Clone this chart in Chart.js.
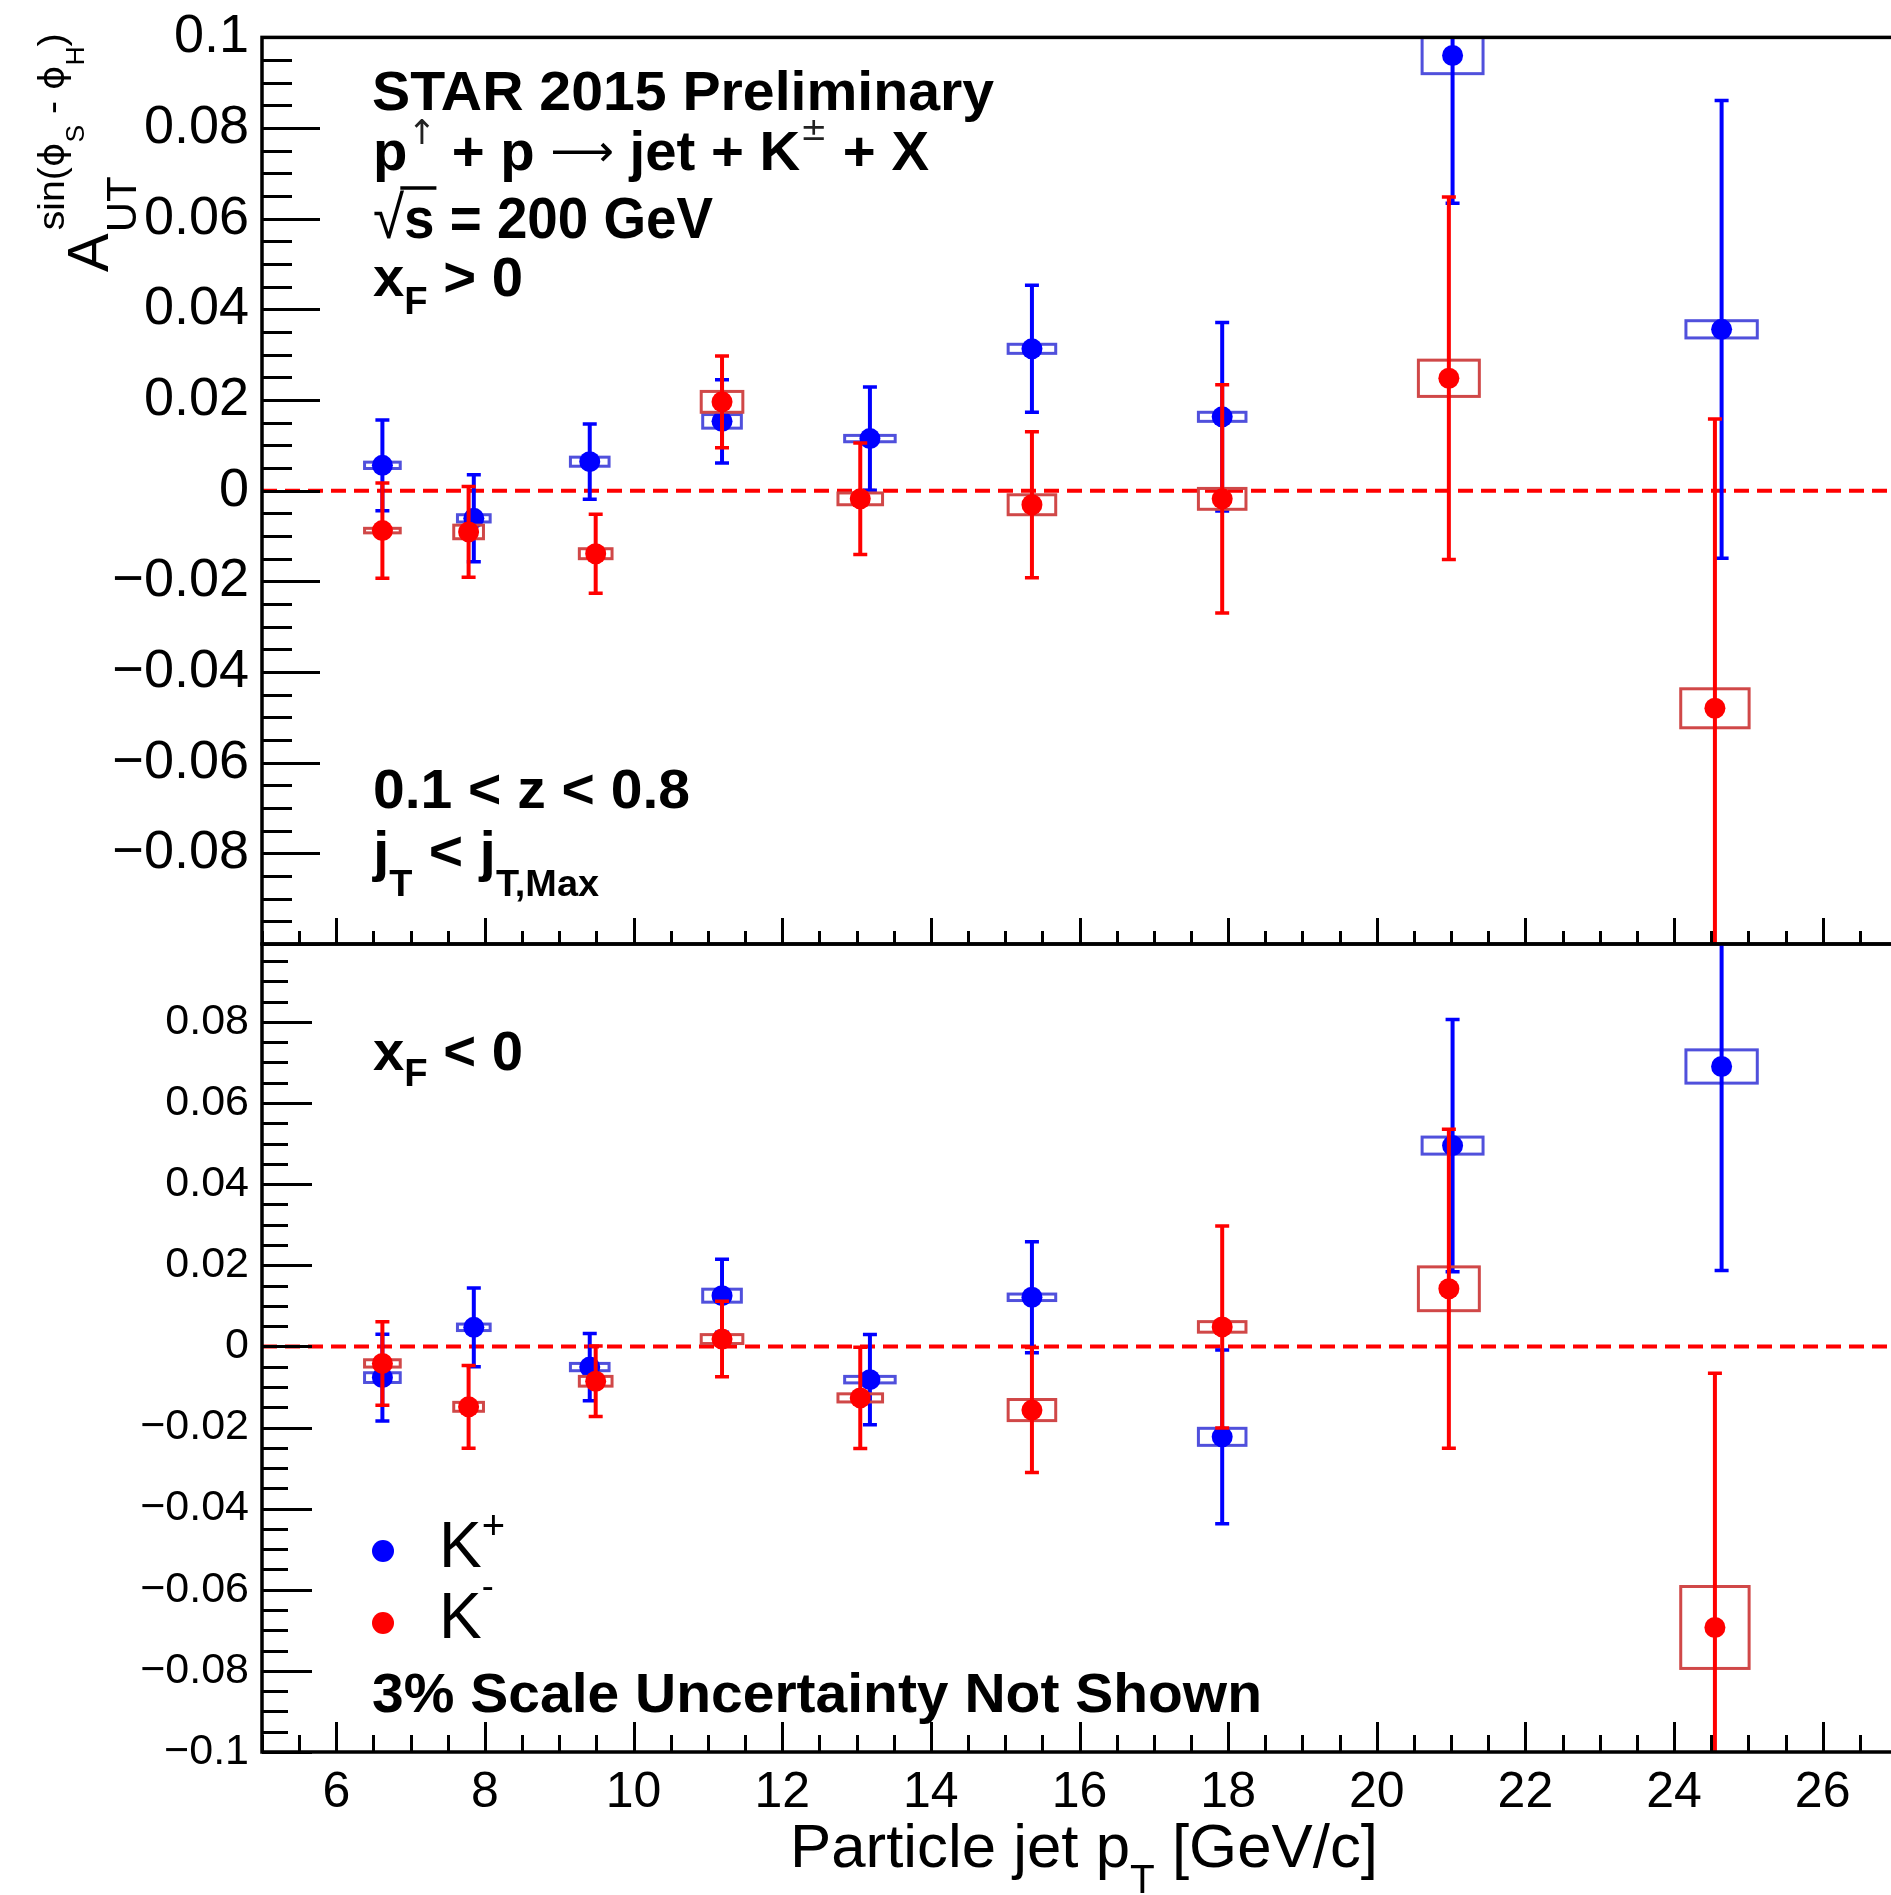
<!DOCTYPE html>
<html><head><meta charset="utf-8">
<script src="https://cdn.jsdelivr.net/npm/chart.js@4.4.1/dist/chart.umd.min.js"></script>
<style>
html,body{margin:0;padding:0;background:#fff;overflow:hidden;width:1891px;height:1895px;}
canvas{position:absolute;left:0;top:0;}
</style></head><body>
<canvas id="cTop" width="1910" height="1895"></canvas>
<canvas id="cBot" width="1910" height="1895"></canvas>
<script>
// ---------------- DATA ----------------
// x_F > 0 (top panel)
const ptTopKplus   = [6.62, 7.85, 9.41, 11.19, 13.18, 15.36, 17.92, 21.02, 24.64];
const autTopKplus  = [0.0056, -0.0061, 0.0064, 0.0153, 0.0115, 0.0313, 0.0163, 0.0960, 0.0356];
const statTopKplus = [0.0100, 0.0096, 0.0083, 0.0092, 0.0114, 0.0140, 0.0208, 0.0326, 0.0505];
const sysTopKplus  = [0.0007, 0.0008, 0.0010, 0.0015, 0.0007, 0.0010, 0.0010, 0.0040, 0.0019];

const ptTopKminus   = [6.62, 7.78, 9.49, 11.19, 13.05, 15.36, 17.92, 20.97, 24.55];
const autTopKminus  = [-0.0088, -0.0091, -0.0139, 0.0196, -0.0018, -0.0031, -0.0018, 0.0248, -0.0480];
const statTopKminus = [0.0105, 0.0100, 0.0087, 0.0101, 0.0123, 0.0161, 0.0252, 0.0400, 0.0638];
const sysTopKminus  = [0.0005, 0.0015, 0.0011, 0.0023, 0.0013, 0.0022, 0.0023, 0.0040, 0.0043];

// x_F < 0 (bottom panel)
const ptBotKplus   = [6.62, 7.85, 9.41, 11.19, 13.18, 15.36, 17.92, 21.02, 24.64];
const autBotKplus  = [-0.0077, 0.0047, -0.0051, 0.0125, -0.0082, 0.0121, -0.0223, 0.0495, 0.0690];
const statBotKplus = [0.0107, 0.0097, 0.0083, 0.0090, 0.0111, 0.0137, 0.0214, 0.0311, 0.0503];
const sysBotKplus  = [0.0012, 0.0008, 0.0009, 0.0016, 0.0008, 0.0008, 0.0021, 0.0021, 0.0041];

const ptBotKminus   = [6.62, 7.78, 9.49, 11.19, 13.05, 15.36, 17.92, 20.97, 24.55];
const autBotKminus  = [-0.0042, -0.0149, -0.0086, 0.0018, -0.0127, -0.0157, 0.0048, 0.0142, -0.0693];
const statBotKminus = [0.0103, 0.0102, 0.0087, 0.0093, 0.0125, 0.0154, 0.0249, 0.0393, 0.0627];
const sysBotKminus  = [0.0009, 0.0011, 0.0012, 0.0011, 0.0010, 0.0026, 0.0013, 0.0054, 0.0101];

// half widths of the systematic boxes (in pT units)
const binHalfKplus  = [0.24, 0.22, 0.26, 0.26, 0.34, 0.32, 0.32, 0.41, 0.48];
const binHalfKminus = [0.24, 0.20, 0.22, 0.28, 0.30, 0.32, 0.32, 0.41, 0.46];

// ticks
const xTickValues = [6, 8, 10, 12, 14, 16, 18, 20, 22, 24, 26];
const xTickLabels = ['6','8','10','12','14','16','18','20','22','24','26'];
const yTickValuesTop = [0.1, 0.08, 0.06, 0.04, 0.02, 0, -0.02, -0.04, -0.06, -0.08];
const yTickLabelsTop = ['0.1','0.08','0.06','0.04','0.02','0','\u22120.02','\u22120.04','\u22120.06','\u22120.08'];
const yTickValuesBot = [0.08, 0.06, 0.04, 0.02, 0, -0.02, -0.04, -0.06, -0.08, -0.1];
const yTickLabelsBot = ['0.08','0.06','0.04','0.02','0','\u22120.02','\u22120.04','\u22120.06','\u22120.08','\u22120.1'];

// ---------------- HELPERS ----------------
const FF = "'Liberation Sans', Arimo, Arial, sans-serif";
const F = (sz, b) => (b ? 'bold ' : '') + sz + 'px ' + FF;
const FD = (sz) => sz + "px 'DejaVu Sans', 'Liberation Sans', sans-serif";

function rich(ctx, x, y, segs, targetW) {
  let W = 0; const pos = [], ws = [];
  for (const s of segs) { ctx.font = s.f; const w = ctx.measureText(s.t).width; pos.push(W); ws.push(w); W += w; }
  const sx = targetW ? targetW / W : 1;
  ctx.save(); ctx.translate(x, y); ctx.scale(sx, 1);
  ctx.textBaseline = 'alphabetic'; ctx.textAlign = 'left';
  segs.forEach((s, i) => {
    ctx.font = s.f; ctx.fillStyle = s.c || '#000';
    ctx.fillText(s.t, pos[i], s.dy || 0);
    if (s.over) {
      ctx.strokeStyle = '#000'; ctx.lineWidth = 3.5;
      ctx.beginPath(); ctx.moveTo(pos[i] - 4, s.over); ctx.lineTo(pos[i] + ws[i] + 2, s.over); ctx.stroke();
    }
  });
  ctx.restore();
}

function mkData(xs, ys) { return xs.map((v, i) => ({x: v, y: ys[i]})); }

const errPlugin = {
  id: 'errs',
  beforeDatasetDraw(chart, args) {
    const ds = chart.data.datasets[args.index];
    if (!ds.statErr) return;
    const {ctx, chartArea: a, scales: {x, y}} = chart;
    ctx.save();
    ctx.beginPath(); ctx.rect(a.left, a.top, a.right - a.left, a.bottom - a.top); ctx.clip();
    ds.data.forEach((p, i) => {
      const px = x.getPixelForValue(p.x);
      const bx0 = x.getPixelForValue(p.x - ds.binHalf[i]), bx1 = x.getPixelForValue(p.x + ds.binHalf[i]);
      const by0 = y.getPixelForValue(p.y + ds.sysErr[i]), by1 = y.getPixelForValue(p.y - ds.sysErr[i]);
      ctx.strokeStyle = ds.boxColor; ctx.lineWidth = 3;
      ctx.strokeRect(bx0, by0, bx1 - bx0, by1 - by0);
      const ey0 = y.getPixelForValue(p.y + ds.statErr[i]), ey1 = y.getPixelForValue(p.y - ds.statErr[i]);
      ctx.strokeStyle = ds.errColor; ctx.lineWidth = 4;
      ctx.beginPath(); ctx.moveTo(px, ey0); ctx.lineTo(px, ey1); ctx.stroke();
      ctx.lineWidth = 3.5;
      ctx.beginPath(); ctx.moveTo(px - 7, ey0); ctx.lineTo(px + 7, ey0);
      ctx.moveTo(px - 7, ey1); ctx.lineTo(px + 7, ey1); ctx.stroke();
    });
    ctx.restore();
  }
};

function drawFrameAndTicks(chart, yMajorLen, yMinorLen, xMajorLen, xMinorLen) {
  const {ctx, chartArea: a, scales: {x, y}} = chart;
  ctx.save();
  ctx.strokeStyle = '#000'; ctx.lineCap = 'butt';
  ctx.lineWidth = 3;
  for (let k = -20; k <= 20; k++) {
    const v = k * 0.005;
    if (v < y.min - 1e-9 || v > y.max + 1e-9) continue;
    const py = Math.round(y.getPixelForValue(v)) + 0.5;
    const len = (k % 4 === 0) ? yMajorLen : yMinorLen;
    ctx.beginPath(); ctx.moveTo(a.left, py); ctx.lineTo(a.left + len, py); ctx.stroke();
  }
  for (let k = 10; k <= 54; k++) {
    const v = k * 0.5;
    const px = Math.round(x.getPixelForValue(v)) + 0.5;
    const len = (k % 4 === 0) ? xMajorLen : xMinorLen;
    ctx.beginPath(); ctx.moveTo(px, a.bottom); ctx.lineTo(px, a.bottom - len); ctx.stroke();
  }
  ctx.lineWidth = 3.5;
  ctx.strokeRect(a.left, a.top, a.right - a.left, a.bottom - a.top);
  ctx.restore();
}

function seriesSets(xp, yp, sp, ssp, xm, ym, sm, ssm) {
  return [
    { type: 'scatter', label: 'K-', order: 1, data: mkData(xm, ym),
      statErr: sm, sysErr: ssm, binHalf: binHalfKminus,
      boxColor: '#d04848', errColor: '#ff0000',
      pointRadius: 10.5, pointHoverRadius: 10.5, pointBackgroundColor: '#ff0000', pointBorderWidth: 0, pointBorderColor: '#ff0000' },
    { type: 'scatter', label: 'K+', order: 2, data: mkData(xp, yp),
      statErr: sp, sysErr: ssp, binHalf: binHalfKplus,
      boxColor: '#5050dc', errColor: '#0000ff',
      pointRadius: 10.5, pointHoverRadius: 10.5, pointBackgroundColor: '#0000ff', pointBorderWidth: 0, pointBorderColor: '#0000ff' },
    { type: 'line', label: 'zero', order: 3, data: [{x: 5, y: 0}, {x: 27, y: 0}],
      showLine: true, borderColor: '#ff0000', borderWidth: 4, borderDash: [15, 8], pointRadius: 0, fill: false }
  ];
}

// ---------------- TOP PANEL ----------------
const topText = {
  id: 'topText',
  afterDraw(chart) {
    const ctx = chart.ctx;
    drawFrameAndTicks(chart, 58, 30, 26, 13);
    rich(ctx, 372, 110, [{t: 'STAR 2015 Preliminary', f: F(56, true)}], 622);
    rich(ctx, 373, 170, [
      {t: 'p', f: F(56, true)},
      {t: '\u2191', f: FD(34), dy: -26, c: '#222'},
      {t: ' + p ', f: F(56, true)},
      {t: '\u27F6', f: FD(44), dy: -4},
      {t: ' jet + K', f: F(56, true)},
      {t: '\u00B1', f: FD(32), dy: -30, c: '#222'},
      {t: ' + X', f: F(56, true)}], 556);
    rich(ctx, 373, 238, [
      {t: '\u221A', f: F(60, false)},
      {t: 's', f: F(58, true), over: -50},
      {t: ' = 200 GeV', f: F(58, true)}], 340);
    rich(ctx, 373, 296, [
      {t: 'x', f: F(56, true)}, {t: 'F', f: F(38, true), dy: 18}, {t: ' > 0', f: F(56, true)}], 150);
    rich(ctx, 373, 808, [{t: '0.1 < z < 0.8', f: F(56, true)}], 317);
    rich(ctx, 373, 870, [
      {t: 'j', f: F(56, true)}, {t: 'T', f: F(36, true), dy: 26},
      {t: ' < j', f: F(56, true)}, {t: 'T,Max', f: F(36, true), dy: 26}], 226);
    // y-axis title (rotated)
    ctx.save();
    ctx.translate(108, 272); ctx.rotate(-Math.PI / 2);
    ctx.font = F(58, false); ctx.fillStyle = '#000'; ctx.textBaseline = 'alphabetic';
    ctx.fillText('A', 0, 0);
    const wA = ctx.measureText('A').width;
    ctx.font = F(42, false); ctx.fillText('UT', wA + 1, 28);
    rich(ctx, wA + 3, -44, [
      {t: 'sin(', f: F(37, false)},
      {t: '\u03D5', f: FD(35)},
      {t: 'S', f: F(25, false), dy: 20},
      {t: ' - ', f: F(37, false)},
      {t: '\u03D5', f: FD(35)},
      {t: 'H', f: F(25, false), dy: 20},
      {t: ')', f: F(37, false)}], 197);
    ctx.restore();
  }
};

new Chart(document.getElementById('cTop'), {
  type: 'scatter',
  data: { datasets: seriesSets(ptTopKplus, autTopKplus, statTopKplus, sysTopKplus,
                               ptTopKminus, autTopKminus, statTopKminus, sysTopKminus) },
  options: {
    responsive: false, animation: false, devicePixelRatio: 1,
    layout: { padding: { left: 0, top: 33, right: 13, bottom: 1895 - 944 } },
    plugins: { legend: { display: false }, tooltip: { enabled: false } },
    scales: {
      x: { type: 'linear', min: 5, max: 27, display: false },
      y: { type: 'linear', min: -0.1, max: 0.1,
           grid: { display: false }, border: { display: false },
           afterFit(s) { s.width = 262; },
           afterBuildTicks(s) { s.ticks = yTickValuesTop.map(v => ({value: v})); },
           ticks: { font: { family: FF, size: 54 }, color: '#000', padding: 5, autoSkip: false,
                    callback: (v, i) => yTickLabelsTop[i] } }
    }
  },
  plugins: [errPlugin, topText]
});

// ---------------- BOTTOM PANEL ----------------
const botText = {
  id: 'botText',
  afterDraw(chart) {
    const ctx = chart.ctx;
    drawFrameAndTicks(chart, 50, 26, 30, 17);
    rich(ctx, 373, 1070, [
      {t: 'x', f: F(56, true)}, {t: 'F', f: F(38, true), dy: 16}, {t: ' < 0', f: F(56, true)}], 150);
    ctx.save();
    ctx.fillStyle = '#0000ff'; ctx.beginPath(); ctx.arc(383, 1551, 11, 0, Math.PI * 2); ctx.fill();
    ctx.fillStyle = '#ff0000'; ctx.beginPath(); ctx.arc(383, 1623, 11, 0, Math.PI * 2); ctx.fill();
    ctx.restore();
    rich(ctx, 439, 1567, [{t: 'K', f: F(64, false)}, {t: '+', f: F(40, false), dy: -28}]);
    rich(ctx, 439, 1638, [{t: 'K', f: F(64, false)}, {t: '-', f: F(36, false), dy: -40}]);
    rich(ctx, 372, 1712, [{t: '3% Scale Uncertainty Not Shown', f: F(56, true)}], 890);
    rich(ctx, 790, 1867, [
      {t: 'Particle jet p', f: F(61, false)}, {t: 'T', f: F(40, false), dy: 26},
      {t: ' [GeV/c]', f: F(61, false)}], 588);
  }
};

new Chart(document.getElementById('cBot'), {
  type: 'scatter',
  data: { datasets: seriesSets(ptBotKplus, autBotKplus, statBotKplus, sysBotKplus,
                               ptBotKminus, autBotKminus, statBotKminus, sysBotKminus) },
  options: {
    responsive: false, animation: false, devicePixelRatio: 1,
    layout: { padding: { left: 0, top: 944, right: 13, bottom: 0 } },
    plugins: { legend: { display: false }, tooltip: { enabled: false } },
    scales: {
      x: { type: 'linear', min: 5, max: 27,
           grid: { display: false }, border: { display: false },
           afterFit(s) { s.height = 1895 - 1752; },
           afterBuildTicks(s) { s.ticks = xTickValues.map(v => ({value: v})); },
           ticks: { font: { family: FF, size: 50 }, color: '#000', padding: 3, maxRotation: 0, autoSkip: false,
                    callback: (v, i) => xTickLabels[i] } },
      y: { type: 'linear', min: -0.1, max: 0.0992,
           grid: { display: false }, border: { display: false },
           afterFit(s) { s.width = 262; },
           afterBuildTicks(s) { s.ticks = yTickValuesBot.map(v => ({value: v})); },
           ticks: { font: { family: FF, size: 43 }, color: '#000', padding: 5, autoSkip: false,
                    callback: (v, i) => yTickLabelsBot[i] } }
    }
  },
  plugins: [errPlugin, botText]
});
</script>
</body></html>
